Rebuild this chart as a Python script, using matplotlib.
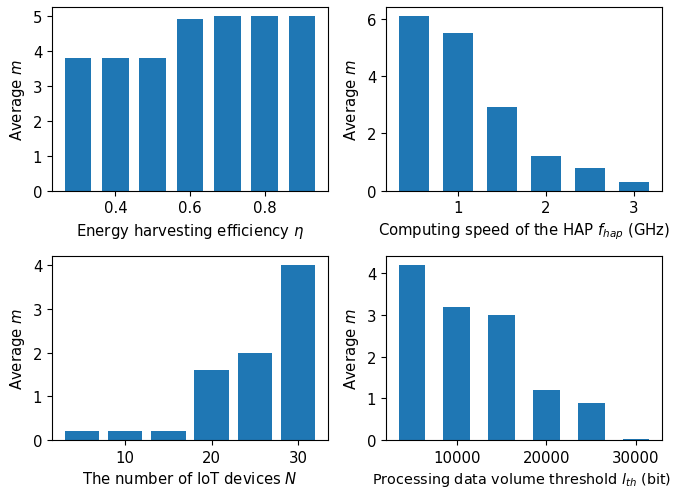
import matplotlib
matplotlib.use("Agg")
import matplotlib.pyplot as plt

plt.rcParams['font.size'] = 10.7

eta = [0.3, 0.4, 0.5, 0.6, 0.7, 0.8, 0.9]
m_eta = [3.8, 3.8, 3.8, 4.9, 5.0, 5.0, 5.0]

f_hap = [0.5, 1.0, 1.5, 2.0, 2.5, 3.0]
m_f = [6.1, 5.5, 2.9, 1.2, 0.8, 0.3]

N = [5, 10, 15, 20, 25, 30]
m_N = [0.2, 0.2, 0.2, 1.6, 2.0, 4.0]

l_th = [5000, 10000, 15000, 20000, 25000, 30000]
m_l = [4.2, 3.2, 3.0, 1.2, 0.9, 0.02]

fig, axes = plt.subplots(2, 2, figsize=(6.77, 4.89), dpi=100)

W, H = 677, 489
fig.subplots_adjust(left=52 / W, right=662 / W, top=1 - 8 / H, bottom=1 - 441 / H,
                    wspace=58 / 276, hspace=66 / 184)

ax = axes[0, 0]
ax.bar(eta, m_eta, width=0.072)
ax.set_xlabel(r"Energy harvesting efficiency $\eta$")
ax.set_ylabel(r"Average $m$")

ax = axes[0, 1]
ax.bar(f_hap, m_f, width=0.35)
ax.set_xlabel(r"Computing speed of the HAP $f_{hap}$ (GHz)")
ax.set_ylabel(r"Average $m$")

ax = axes[1, 0]
ax.bar(N, m_N, width=4)
ax.set_xlabel(r"The number of IoT devices $N$")
ax.set_ylabel(r"Average $m$")

ax = axes[1, 1]
ax.bar(l_th, m_l, width=3000)
ax.set_xlabel(r"Processing data volume threshold $l_{th}$ (bit)", fontsize=10.4)
ax.xaxis.label.set_x(0.49)
ax.set_ylabel(r"Average $m$")

fig.savefig("out.png", dpi=100)
